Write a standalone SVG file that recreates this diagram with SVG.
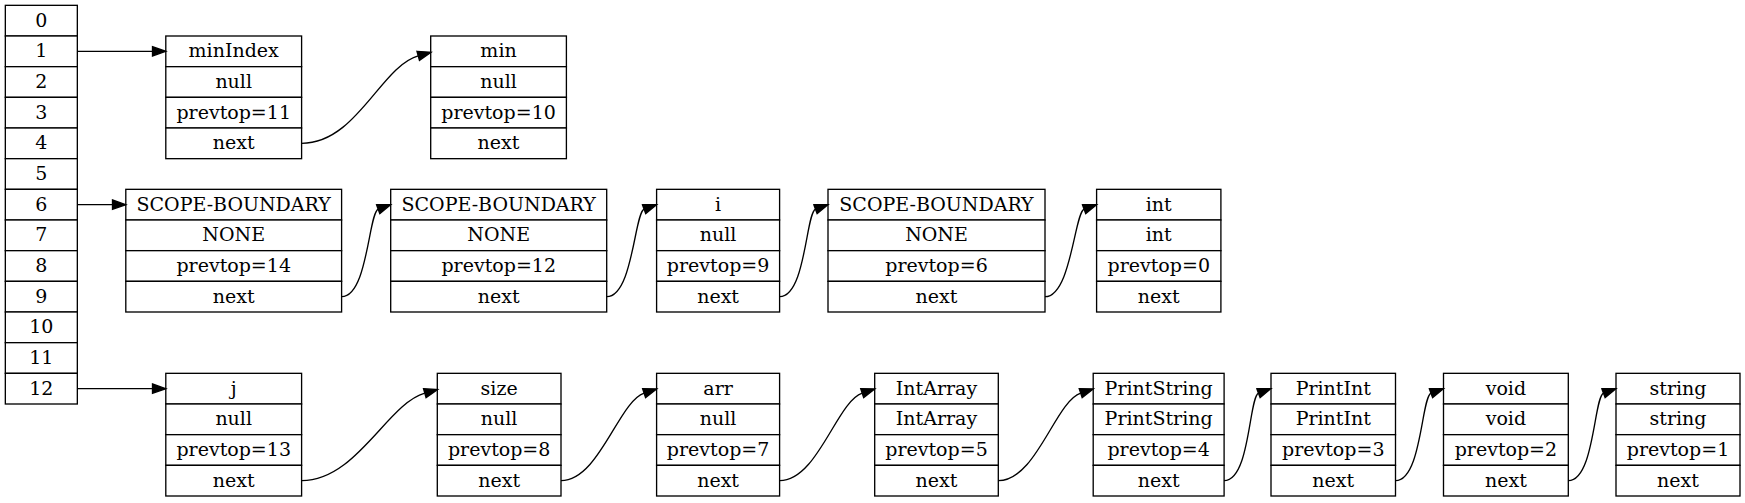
<svg xmlns="http://www.w3.org/2000/svg" width="1745" height="503" viewBox="0 0 1745 503">
<style>
.c{fill:#fff;stroke:#000;stroke-width:1.33}
.t{font-family:"DejaVu Serif","Liberation Serif",serif;font-size:19px;text-anchor:middle;fill:#000}
.e{fill:none;stroke:#000;stroke-width:1.33;marker-end:url(#ah)}
</style>
<defs>
<marker id="ah" markerUnits="userSpaceOnUse" markerWidth="14" markerHeight="10" refX="0" refY="4.67" orient="auto" overflow="visible">
<path d="M0,0 L13.3,4.67 L0,9.33 z" fill="#000" stroke="#000" stroke-width="1.33"/>
</marker>
</defs>
<rect width="1745" height="503" fill="#fff"/>
<g id="stack">
<rect class="c" x="5.33" y="5.33" width="72" height="30.67"/><text class="t" x="41.33" y="26.7">0</text>
<rect class="c" x="5.33" y="36" width="72" height="30.67"/><text class="t" x="41.33" y="57.3">1</text>
<rect class="c" x="5.33" y="66.67" width="72" height="30.67"/><text class="t" x="41.33" y="88">2</text>
<rect class="c" x="5.33" y="97.33" width="72" height="30.67"/><text class="t" x="41.33" y="118.7">3</text>
<rect class="c" x="5.33" y="128" width="72" height="30.67"/><text class="t" x="41.33" y="149.3">4</text>
<rect class="c" x="5.33" y="158.67" width="72" height="30.67"/><text class="t" x="41.33" y="180">5</text>
<rect class="c" x="5.33" y="189.33" width="72" height="30.67"/><text class="t" x="41.33" y="210.7">6</text>
<rect class="c" x="5.33" y="220" width="72" height="30.67"/><text class="t" x="41.33" y="241.3">7</text>
<rect class="c" x="5.33" y="250.67" width="72" height="30.67"/><text class="t" x="41.33" y="272">8</text>
<rect class="c" x="5.33" y="281.33" width="72" height="30.67"/><text class="t" x="41.33" y="302.7">9</text>
<rect class="c" x="5.33" y="312" width="72" height="30.67"/><text class="t" x="41.33" y="333.3">10</text>
<rect class="c" x="5.33" y="342.67" width="72" height="30.67"/><text class="t" x="41.33" y="364">11</text>
<rect class="c" x="5.33" y="373.33" width="72" height="30.67"/><text class="t" x="41.33" y="394.7">12</text>
</g>
<g id="minIndex" transform="translate(165.8,36)">
<rect class="c" width="135.8" height="30.67"/><rect class="c" y="30.67" width="135.8" height="30.67"/><rect class="c" y="61.33" width="135.8" height="30.67"/><rect class="c" y="92" width="135.8" height="30.67"/>
<text class="t" x="67.9" y="21.3">minIndex</text><text class="t" x="67.9" y="52">null</text><text class="t" x="67.9" y="82.7">prevtop=11</text><text class="t" x="67.9" y="113.3">next</text>
</g>
<g id="min" transform="translate(430.7,36)">
<rect class="c" width="135.7" height="30.67"/><rect class="c" y="30.67" width="135.7" height="30.67"/><rect class="c" y="61.33" width="135.7" height="30.67"/><rect class="c" y="92" width="135.7" height="30.67"/>
<text class="t" x="67.85" y="21.3">min</text><text class="t" x="67.85" y="52">null</text><text class="t" x="67.85" y="82.7">prevtop=10</text><text class="t" x="67.85" y="113.3">next</text>
</g>
<g id="scope14" transform="translate(125.8,189.33)">
<rect class="c" width="215.8" height="30.67"/><rect class="c" y="30.67" width="215.8" height="30.67"/><rect class="c" y="61.33" width="215.8" height="30.67"/><rect class="c" y="92" width="215.8" height="30.67"/>
<text class="t" x="107.9" y="21.3">SCOPE-BOUNDARY</text><text class="t" x="107.9" y="52">NONE</text><text class="t" x="107.9" y="82.7">prevtop=14</text><text class="t" x="107.9" y="113.3">next</text>
</g>
<g id="scope12" transform="translate(390.7,189.33)">
<rect class="c" width="216" height="30.67"/><rect class="c" y="30.67" width="216" height="30.67"/><rect class="c" y="61.33" width="216" height="30.67"/><rect class="c" y="92" width="216" height="30.67"/>
<text class="t" x="108" y="21.3">SCOPE-BOUNDARY</text><text class="t" x="108" y="52">NONE</text><text class="t" x="108" y="82.7">prevtop=12</text><text class="t" x="108" y="113.3">next</text>
</g>
<g id="i" transform="translate(656.6,189.33)">
<rect class="c" width="123" height="30.67"/><rect class="c" y="30.67" width="123" height="30.67"/><rect class="c" y="61.33" width="123" height="30.67"/><rect class="c" y="92" width="123" height="30.67"/>
<text class="t" x="61.5" y="21.3">i</text><text class="t" x="61.5" y="52">null</text><text class="t" x="61.5" y="82.7">prevtop=9</text><text class="t" x="61.5" y="113.3">next</text>
</g>
<g id="scope6" transform="translate(828,189.33)">
<rect class="c" width="217" height="30.67"/><rect class="c" y="30.67" width="217" height="30.67"/><rect class="c" y="61.33" width="217" height="30.67"/><rect class="c" y="92" width="217" height="30.67"/>
<text class="t" x="108.5" y="21.3">SCOPE-BOUNDARY</text><text class="t" x="108.5" y="52">NONE</text><text class="t" x="108.5" y="82.7">prevtop=6</text><text class="t" x="108.5" y="113.3">next</text>
</g>
<g id="int" transform="translate(1096.6,189.33)">
<rect class="c" width="124.3" height="30.67"/><rect class="c" y="30.67" width="124.3" height="30.67"/><rect class="c" y="61.33" width="124.3" height="30.67"/><rect class="c" y="92" width="124.3" height="30.67"/>
<text class="t" x="62.15" y="21.3">int</text><text class="t" x="62.15" y="52">int</text><text class="t" x="62.15" y="82.7">prevtop=0</text><text class="t" x="62.15" y="113.3">next</text>
</g>
<g id="j" transform="translate(165.8,373.33)">
<rect class="c" width="135.8" height="30.67"/><rect class="c" y="30.67" width="135.8" height="30.67"/><rect class="c" y="61.33" width="135.8" height="30.67"/><rect class="c" y="92" width="135.8" height="30.67"/>
<text class="t" x="67.9" y="21.3">j</text><text class="t" x="67.9" y="52">null</text><text class="t" x="67.9" y="82.7">prevtop=13</text><text class="t" x="67.9" y="113.3">next</text>
</g>
<g id="size" transform="translate(437.3,373.33)">
<rect class="c" width="123.7" height="30.67"/><rect class="c" y="30.67" width="123.7" height="30.67"/><rect class="c" y="61.33" width="123.7" height="30.67"/><rect class="c" y="92" width="123.7" height="30.67"/>
<text class="t" x="61.85" y="21.3">size</text><text class="t" x="61.85" y="52">null</text><text class="t" x="61.85" y="82.7">prevtop=8</text><text class="t" x="61.85" y="113.3">next</text>
</g>
<g id="arr" transform="translate(656.6,373.33)">
<rect class="c" width="123" height="30.67"/><rect class="c" y="30.67" width="123" height="30.67"/><rect class="c" y="61.33" width="123" height="30.67"/><rect class="c" y="92" width="123" height="30.67"/>
<text class="t" x="61.5" y="21.3">arr</text><text class="t" x="61.5" y="52">null</text><text class="t" x="61.5" y="82.7">prevtop=7</text><text class="t" x="61.5" y="113.3">next</text>
</g>
<g id="IntArray" transform="translate(874.7,373.33)">
<rect class="c" width="123.6" height="30.67"/><rect class="c" y="30.67" width="123.6" height="30.67"/><rect class="c" y="61.33" width="123.6" height="30.67"/><rect class="c" y="92" width="123.6" height="30.67"/>
<text class="t" x="61.8" y="21.3">IntArray</text><text class="t" x="61.8" y="52">IntArray</text><text class="t" x="61.8" y="82.7">prevtop=5</text><text class="t" x="61.8" y="113.3">next</text>
</g>
<g id="PrintString" transform="translate(1093.2,373.33)">
<rect class="c" width="130.9" height="30.67"/><rect class="c" y="30.67" width="130.9" height="30.67"/><rect class="c" y="61.33" width="130.9" height="30.67"/><rect class="c" y="92" width="130.9" height="30.67"/>
<text class="t" x="65.45" y="21.3">PrintString</text><text class="t" x="65.45" y="52">PrintString</text><text class="t" x="65.45" y="82.7">prevtop=4</text><text class="t" x="65.45" y="113.3">next</text>
</g>
<g id="PrintInt" transform="translate(1271,373.33)">
<rect class="c" width="124.5" height="30.67"/><rect class="c" y="30.67" width="124.5" height="30.67"/><rect class="c" y="61.33" width="124.5" height="30.67"/><rect class="c" y="92" width="124.5" height="30.67"/>
<text class="t" x="62.25" y="21.3">PrintInt</text><text class="t" x="62.25" y="52">PrintInt</text><text class="t" x="62.25" y="82.7">prevtop=3</text><text class="t" x="62.25" y="113.3">next</text>
</g>
<g id="void" transform="translate(1443.5,373.33)">
<rect class="c" width="124.8" height="30.67"/><rect class="c" y="30.67" width="124.8" height="30.67"/><rect class="c" y="61.33" width="124.8" height="30.67"/><rect class="c" y="92" width="124.8" height="30.67"/>
<text class="t" x="62.4" y="21.3">void</text><text class="t" x="62.4" y="52">void</text><text class="t" x="62.4" y="82.7">prevtop=2</text><text class="t" x="62.4" y="113.3">next</text>
</g>
<g id="string" transform="translate(1616,373.33)">
<rect class="c" width="124" height="30.67"/><rect class="c" y="30.67" width="124" height="30.67"/><rect class="c" y="61.33" width="124" height="30.67"/><rect class="c" y="92" width="124" height="30.67"/>
<text class="t" x="62" y="21.3">string</text><text class="t" x="62" y="52">string</text><text class="t" x="62" y="82.7">prevtop=1</text><text class="t" x="62" y="113.3">next</text>
</g>
<g id="connectors">
<path class="e" d="M77.33,51.33 L152.5,51.33"/>
<path class="e" d="M301.6,143.33 C356.6,143.33 380.7,66.33 418.2,55.83"/>
<path class="e" d="M77.33,204.67 L112.5,204.67"/>
<path class="e" d="M341.6,296.67 C367.6,296.67 368.7,212.67 378.2,209.17"/>
<path class="e" d="M606.7,296.67 C632.7,296.67 634.6,212.67 644.1,209.17"/>
<path class="e" d="M779.6,296.67 C805.6,296.67 806,212.67 815.5,209.17"/>
<path class="e" d="M1045,296.67 C1071,296.67 1074.6,212.67 1084.1,209.17"/>
<path class="e" d="M77.33,388.67 L152.5,388.67"/>
<path class="e" d="M301.6,480.67 C356.6,480.67 387.3,403.67 424.8,393.17"/>
<path class="e" d="M561,480.67 C599,480.67 618.6,401.67 644.1,393.17"/>
<path class="e" d="M779.6,480.67 C817.6,480.67 836.7,401.67 862.2,393.17"/>
<path class="e" d="M998.3,480.67 C1036.3,480.67 1055.2,401.67 1080.7,393.17"/>
<path class="e" d="M1224.1,480.67 C1250.1,480.67 1249,396.67 1258.5,393.17"/>
<path class="e" d="M1395.5,480.67 C1421.5,480.67 1421.5,396.67 1431,393.17"/>
<path class="e" d="M1568.3,480.67 C1594.3,480.67 1594,396.67 1603.5,393.17"/>
</g>
</svg>
